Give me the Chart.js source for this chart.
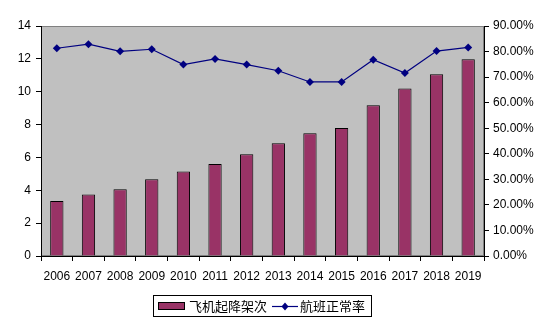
<!DOCTYPE html>
<html>
<head>
<meta charset="utf-8">
<script src="https://cdn.jsdelivr.net/npm/chart.js@4/dist/chart.umd.min.js"></script>
<style>
html,body{margin:0;padding:0;background:#fff;}
canvas{display:block;}
</style>
</head>
<body>
<canvas id="c" width="556" height="326" style="width:556px;height:326px"></canvas>
<script>
const years = ['2006','2007','2008','2009','2010','2011','2012','2013','2014','2015','2016','2017','2018','2019'];
const movements = [3.35, 3.75, 4.06, 4.67, 5.15, 5.6, 6.19, 6.87, 7.47, 7.79, 9.17, 10.2, 11.06, 11.97];
const punctuality = [81.3, 82.9, 80.1, 80.9, 74.9, 77.1, 74.9, 72.5, 68.1, 68.1, 76.8, 71.6, 80.2, 81.6];
const seriesNames = ['飞机起降架次', '航班正常率'];
const leftTicks = [0, 14, 2];
const rightTicks = [0, 90, 10];

const FONT = '"Liberation Sans", Arial, sans-serif';
const CJK = '"Noto Sans CJK SC", sans-serif';
const BAR = '#993366';
const LINE = '#000080';

const bgPlugin = {
  id: 'bg',
  beforeDraw(chart) {
    const {ctx, chartArea: a} = chart;
    ctx.save();
    ctx.fillStyle = '#C0C0C0';
    ctx.fillRect(a.left, a.top, a.right - a.left, a.bottom - a.top);
    ctx.strokeStyle = '#808080';
    ctx.lineWidth = 1;
    ctx.strokeRect(a.left + 0.5, a.top + 0.5, a.right - a.left - 1, a.bottom - a.top - 1);
    ctx.restore();
  },
  afterDraw(chart) {
    const ctx = chart.ctx;
    const ds = chart.data.datasets;
    ctx.save();
    ctx.strokeStyle = '#000';
    ctx.lineWidth = 1;
    ctx.strokeRect(153.5, 295.5, 218, 21);
    const cy = 306;
    ctx.fillStyle = ds[0].backgroundColor;
    ctx.fillRect(158, 303, 26, 6);
    ctx.strokeRect(158.5, 302.5, 26, 7);
    ctx.font = '13px ' + CJK;
    ctx.textBaseline = 'middle';
    ctx.fillStyle = '#000';
    ctx.fillText(ds[0].label, 189, cy);
    ctx.strokeStyle = ds[1].borderColor;
    ctx.lineWidth = 1.2;
    ctx.beginPath();
    ctx.moveTo(272, cy + 0.5);
    ctx.lineTo(298, cy + 0.5);
    ctx.stroke();
    ctx.fillStyle = ds[1].borderColor;
    ctx.beginPath();
    ctx.moveTo(285, cy - 3.5);
    ctx.lineTo(288.5, cy + 0.5);
    ctx.lineTo(285, cy + 4.5);
    ctx.lineTo(281.5, cy + 0.5);
    ctx.closePath();
    ctx.fill();
    ctx.fillStyle = '#000';
    ctx.fillText(ds[1].label, 300, cy);
    ctx.restore();
  }
};

new Chart(document.getElementById('c'), {
  data: {
    labels: years,
    datasets: [
      {
        type: 'bar',
        label: seriesNames[0],
        data: movements,
        yAxisID: 'y',
        backgroundColor: BAR,
        borderColor: '#000',
        borderWidth: 1,
        borderSkipped: 'bottom',
        categoryPercentage: 1,
        barPercentage: 0.42,
        order: 2
      },
      {
        type: 'line',
        label: seriesNames[1],
        data: punctuality,
        yAxisID: 'y1',
        borderColor: LINE,
        backgroundColor: LINE,
        borderWidth: 1.2,
        pointStyle: 'rectRot',
        pointRadius: 4,
        pointBorderWidth: 0,
        tension: 0,
        order: 1
      }
    ]
  },
  options: {
    responsive: false,
    devicePixelRatio: 1,
    animation: false,
    layout: { padding: { top: 26, bottom: 40, left: 0, right: 0 } },
    plugins: { legend: { display: false }, tooltip: { enabled: false } },
    scales: {
      x: {
        offset: true,
        grid: { offset: true, drawOnChartArea: false, drawTicks: true, tickLength: 5, color: '#000' },
        border: { color: '#000', width: 1 },
        ticks: { color: '#000', font: { family: FONT, size: 12 }, padding: 8, maxRotation: 0, autoSkip: false },
        afterFit(s) { s.height = 30; }
      },
      y: {
        position: 'left',
        min: leftTicks[0], max: leftTicks[1],
        grid: { drawOnChartArea: false, tickLength: 5, color: '#000' },
        border: { color: '#000', width: 1 },
        ticks: { stepSize: leftTicks[2], color: '#000', font: { family: FONT, size: 12 }, padding: 5 },
        afterFit(s) { s.width = 41; }
      },
      y1: {
        position: 'right',
        min: rightTicks[0], max: rightTicks[1],
        grid: { drawOnChartArea: false, tickLength: 5, color: '#000' },
        border: { color: '#000', width: 1 },
        ticks: { stepSize: rightTicks[2], color: '#000', font: { family: FONT, size: 12 }, padding: 4,
                 callback: v => v.toFixed(2) + '%' },
        afterFit(s) { s.width = 72; }
      }
    }
  },
  plugins: [bgPlugin]
});
</script>
</body>
</html>
